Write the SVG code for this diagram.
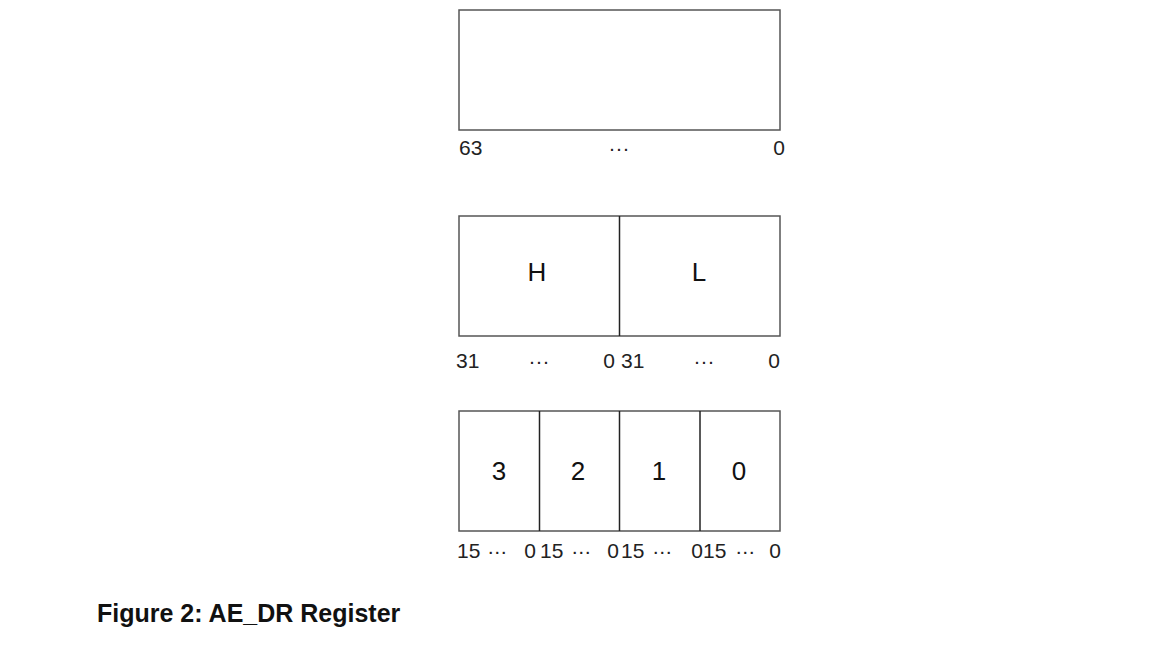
<svg xmlns="http://www.w3.org/2000/svg" width="1153" height="659" viewBox="0 0 1153 659">
<style>
.box{fill:#fff;stroke:#555;stroke-width:1.5}
.div{stroke:#222;stroke-width:1.5}
.big{font-family:"Liberation Sans",Arial,sans-serif;font-size:26px;fill:#111;text-anchor:middle}
.lbl{font-family:"Liberation Sans",Arial,sans-serif;font-size:21px;fill:#222}
.m{text-anchor:middle}
.e{text-anchor:end}
.title{font-family:"Liberation Sans",Arial,sans-serif;font-size:25px;font-weight:bold;fill:#111}
</style>
<rect width="1153" height="659" fill="#fff"/>
<g id="reg64">
<rect class="box" x="459" y="10" width="321" height="120"/>
<text class="lbl" x="459" y="155">63</text>
<text class="lbl m" x="619" y="155">···</text>
<text class="lbl e" x="785" y="155">0</text>
</g>
<g id="reg32">
<rect class="box" x="459" y="216" width="321" height="120"/>
<text class="big" x="537" y="281">H</text>
<text class="big" x="699" y="281">L</text>
<text class="lbl" x="456" y="368">31</text>
<text class="lbl m" x="539" y="368">···</text>
<text class="lbl e" x="615" y="368">0</text>
<text class="lbl" x="621" y="368">31</text>
<text class="lbl m" x="704" y="368">···</text>
<text class="lbl e" x="780" y="368">0</text>
</g>
<g id="reg16">
<rect class="box" x="459" y="411" width="321" height="120"/>
<text class="big" x="499" y="480">3</text>
<text class="big" x="578" y="480">2</text>
<text class="big" x="659" y="480">1</text>
<text class="big" x="739" y="480">0</text>
<g style="letter-spacing:-0.5px">
<text class="lbl m" x="497" y="558">···</text>
<text class="lbl m" x="581" y="558">···</text>
<text class="lbl m" x="662" y="558">···</text>
<text class="lbl m" x="745" y="558">···</text>
</g>
<text class="lbl" x="457" y="558">15</text>
<text class="lbl e" x="536" y="558">0</text>
<text class="lbl" x="540" y="558">15</text>
<text class="lbl e" x="619" y="558">0</text>
<text class="lbl" x="621" y="558">15</text>
<text class="lbl e" x="703" y="558">0</text>
<text class="lbl" x="703" y="558">15</text>
<text class="lbl e" x="781" y="558">0</text>
</g>
<g id="connectors">
<line class="div" x1="619.5" y1="216" x2="619.5" y2="336"/>
<line class="div" x1="539.5" y1="411" x2="539.5" y2="531"/>
<line class="div" x1="619.5" y1="411" x2="619.5" y2="531"/>
<line class="div" x1="700" y1="411" x2="700" y2="531"/>
</g>
<g id="caption">
<text class="title" x="97" y="622">Figure 2: AE_DR Register</text>
</g>
</svg>
